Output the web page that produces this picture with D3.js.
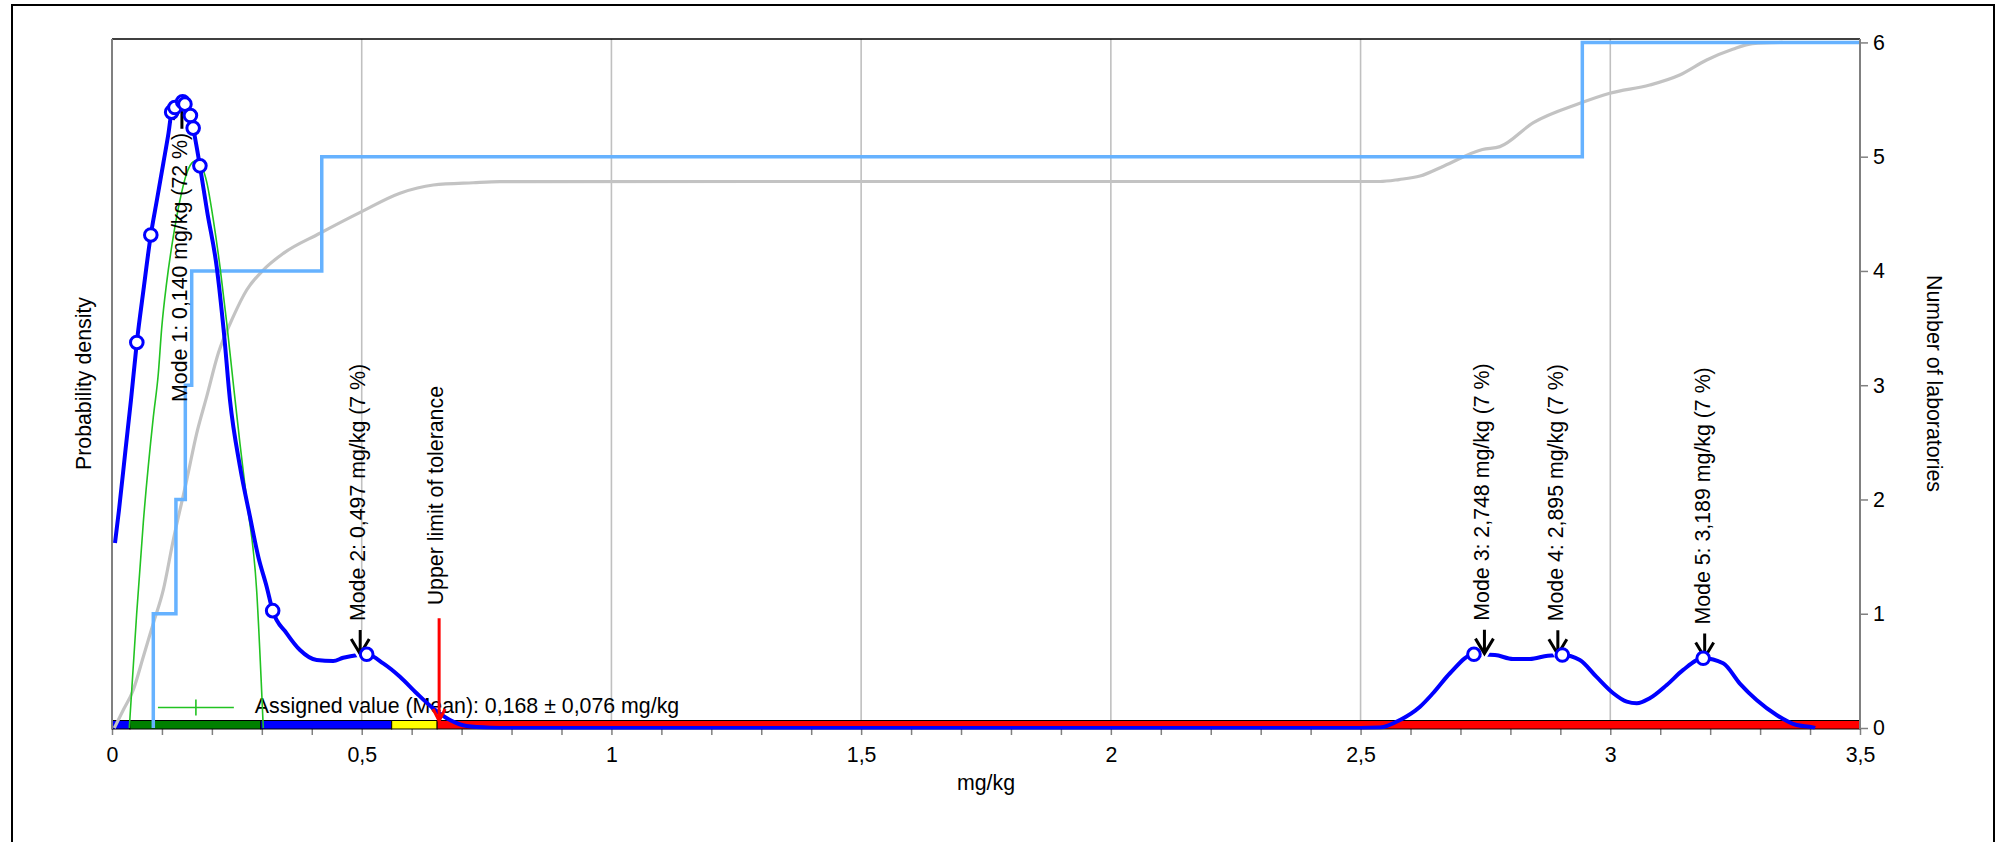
<!DOCTYPE html>
<html><head><meta charset="utf-8">
<script src="https://cdn.jsdelivr.net/npm/d3@7"></script>
<style>
body{margin:0;background:#fff}
svg{display:block}
text{font-family:"Liberation Sans",Arial,sans-serif;font-size:21.33px;fill:#000}
</style>
</head><body>
<svg id="c" width="2004" height="842"></svg>
<script>
// ---------- data ----------
const densityCurve = [
 [0.006,1.619],[0.014,1.908],[0.027,2.433],[0.038,2.871],[0.0497,3.374],[0.063,3.833],[0.0777,4.315],
 [0.0899,4.621],[0.1027,4.942],[0.1131,5.205],[0.1195,5.39],[0.126,5.43],[0.133,5.47],[0.1415,5.48],
 [0.146,5.46],[0.157,5.36],[0.1625,5.25],[0.176,4.92],[0.1905,4.52],[0.2096,4.037],[0.2242,3.454],
 [0.2362,2.871],[0.2563,2.287],[0.2763,1.849],[0.2929,1.499],[0.3097,1.237],[0.3217,1.027],[0.3497,0.829],
 [0.3764,0.683],[0.4098,0.595],[0.443,0.586],[0.463,0.615],[0.48,0.630],[0.51,0.645],[0.543,0.566],
 [0.5766,0.449],[0.61,0.304],[0.643,0.172],[0.6767,0.070],[0.71,0.0175],[0.757,0.003],[0.80,0],
 [2.50,0],[2.539,0.004],[2.579,0.070],[2.619,0.186],[2.645,0.304],[2.679,0.479],[2.727,0.645],
 [2.769,0.639],[2.805,0.604],[2.839,0.604],[2.875,0.633],[2.904,0.639],[2.939,0.595],[2.972,0.449],
 [3.006,0.304],[3.033,0.230],[3.053,0.216],[3.079,0.26],[3.113,0.376],[3.146,0.508],[3.186,0.610],
 [3.226,0.566],[3.259,0.391],[3.293,0.245],[3.333,0.114],[3.373,0.026],[3.406,0.006],[3.41,0]
];
const labResults = [
 [0.0497,3.374],[0.0777,4.315],[0.1195,5.39],[0.126,5.43],[0.1415,5.48],[0.146,5.46],[0.157,5.36],
 [0.1625,5.25],[0.176,4.92],[0.3217,1.027],[0.51,0.645],[2.727,0.645],[2.904,0.639],[3.186,0.610]
];
const normalCurve = [
 [0.0346,0],[0.0494,1.0],[0.0627,1.8],[0.0827,2.72],[0.0927,3.1],[0.0995,3.5],[0.1095,3.9],
 [0.1227,4.3],[0.1361,4.62],[0.1496,4.855],[0.1628,4.956],[0.1696,4.965],[0.1896,4.78],[0.2028,4.45],
 [0.2162,4.037],[0.2296,3.55],[0.2428,3.017],[0.2563,2.486],[0.2697,1.995],[0.2897,1.2],[0.3029,0]
];
const cumulativeCurve = [
 [0.0046,0],[0.0226,0.158],[0.0426,0.333],[0.0627,0.624],[0.0827,0.916],[0.1027,1.208],[0.1227,1.645],
 [0.1496,2.170],[0.1696,2.579],[0.1896,2.900],[0.2128,3.279],[0.2428,3.600],[0.2697,3.833],[0.3029,4.008],
 [0.343,4.154],[0.4164,4.330],[0.4999,4.519],[0.5766,4.680],[0.6432,4.752],[0.7233,4.772],[0.7768,4.781],
 [1.377,4.783],[2.539,4.783],[2.577,4.80],[2.619,4.831],[2.667,4.919],[2.744,5.063],[2.779,5.088],
 [2.846,5.298],[2.939,5.467],[2.999,5.555],[3.079,5.627],[3.139,5.715],[3.193,5.846],[3.245,5.94],
 [3.285,5.99],[3.345,6.0]
];
const labCountSteps = [[0.0827,1],[0.128,2],[0.1468,3],[0.1596,4],[0.42,5],[2.944,6]];
const bandSegments = [[0,0.036],[0.036,0.298],[0.298,0.56],[0.56,0.651],[0.651,3.5]];
const bandColors = ["#0000ff","#008000","#0000ff","#ffff00","#ff0000"];
const modeLabels = ["Mode 1: 0,140 mg/kg (72 %)","Mode 2: 0,497 mg/kg (7 %)","Mode 3: 2,748 mg/kg (7 %)","Mode 4: 2,895 mg/kg (7 %)","Mode 5: 3,189 mg/kg (7 %)"];
const modeValues = [0.140,0.497,2.748,2.895,3.189];
const modeDensities = [5.48,0.638,0.642,0.636,0.608];
const assignedValue = 0.168, assignedUncertainty = 0.076;
const assignedLabel = "Assigned value (Mean): 0,168 ± 0,076 mg/kg";
const upperTolerance = 0.655, toleranceMarkerHeight = 0.96;
const xTickValues = d3.range(0,36).map(i=>i/10);
const xTickLabels = {"0":"0","0.5":"0,5","1":"1","1.5":"1,5","2":"2","2.5":"2,5","3":"3","3.5":"3,5"};
const gridValues = [0.5,1,1.5,2,2.5,3];
const rightTicks = [0,1,2,3,4,5,6];

// ---------- layout ----------
const L=112, R=1860, T=39, B=728;
const svg = d3.select("#c");
const x = d3.scaleLinear([0,3.5],[L,R]);
const yD = d3.scaleLinear([0,6.03],[B,T]);
const yR = d3.scaleLinear([0,6.03],[B,T]);

// outer frame
svg.append("rect").attr("x",12).attr("y",5).attr("width",1982).attr("height",900)
  .attr("fill","none").attr("stroke","#000").attr("stroke-width",2);

svg.append("defs").append("clipPath").attr("id","plot")
  .append("rect").attr("x",L).attr("y",T-4).attr("width",R-L).attr("height",B-T+5.5);

// grid
svg.append("g").selectAll("line").data(gridValues).join("line")
  .attr("x1",d=>x(d)).attr("x2",d=>x(d)).attr("y1",T).attr("y2",B)
  .attr("stroke","#c0c0c0").attr("stroke-width",1.6);

// bottom axis
const xAxis = d3.axisBottom(x).tickValues(xTickValues).tickSize(6)
  .tickFormat(d=>{const k=String(+d.toFixed(1)); return xTickLabels[k]||"";});
const gx = svg.append("g").attr("transform",`translate(0,${B+1})`).call(xAxis);
gx.select(".domain").remove();
gx.selectAll(".tick line").attr("stroke","#808080").attr("stroke-width",1.5);
gx.selectAll(".tick text").attr("y",33).attr("dy",0).style("font-size","21.33px")
  .style("font-family",'"Liberation Sans",Arial,sans-serif').attr("fill","#000");

// band
const band = svg.append("g");
band.selectAll("rect").data(bandSegments).join("rect")
  .attr("x",d=>x(d[0])).attr("width",d=>x(d[1])-x(d[0]))
  .attr("y",B-7.5).attr("height",8.5)
  .attr("fill",(d,i)=>bandColors[i]).attr("stroke","#000").attr("stroke-width",1);

// legend (assigned value)
const ly = yD(0.18);
svg.append("line").attr("x1",x(assignedValue-assignedUncertainty)).attr("x2",x(assignedValue+assignedUncertainty))
  .attr("y1",ly).attr("y2",ly).attr("stroke","#22c322").attr("stroke-width",1.6);
svg.append("line").attr("x1",x(assignedValue)).attr("x2",x(assignedValue))
  .attr("y1",ly-8).attr("y2",ly+8).attr("stroke","#22c322").attr("stroke-width",1.6);
svg.append("text").attr("x",x(assignedValue+assignedUncertainty)+21).attr("y",ly+6).text(assignedLabel);

const plot = svg.append("g").attr("clip-path","url(#plot)");

// cumulative (grey)
plot.append("path").datum(cumulativeCurve)
  .attr("d",d3.line().x(d=>x(d[0])).y(d=>yR(d[1])).curve(d3.curveMonotoneX))
  .attr("fill","none").attr("stroke","#c3c3c3").attr("stroke-width",3.2);

// lab count step (light blue)
const stepPts = [[labCountSteps[0][0],0], ...labCountSteps, [3.5,6]];
plot.append("path").datum(stepPts)
  .attr("d",d3.line().x(d=>x(d[0])).y(d=>yR(d[1])).curve(d3.curveStepAfter))
  .attr("fill","none").attr("stroke","#66b2ff").attr("stroke-width",3.5);

// normal curve (green)
plot.append("path").datum(normalCurve)
  .attr("d",d3.line().x(d=>x(d[0])).y(d=>yD(d[1])).curve(d3.curveMonotoneX))
  .attr("fill","none").attr("stroke","#22c322").attr("stroke-width",1.6);

// density (blue)
plot.append("path").datum(densityCurve)
  .attr("d",d3.line().x(d=>x(d[0])).y(d=>yD(d[1])).curve(d3.curveMonotoneX))
  .attr("fill","none").attr("stroke","#0000ff").attr("stroke-width",4).attr("stroke-linejoin","round");

// axes lines
svg.append("line").attr("x1",L).attr("x2",R).attr("y1",T).attr("y2",T).attr("stroke","#000").attr("stroke-width",1.5);
svg.append("line").attr("x1",L).attr("x2",L).attr("y1",T).attr("y2",B+1).attr("stroke","#808080").attr("stroke-width",2);
const yAxis = d3.axisRight(yR).tickValues(rightTicks).tickSize(8).tickPadding(5).tickFormat(d3.format("d"));
const gy = svg.append("g").attr("transform",`translate(${R},0)`).call(yAxis);
gy.select(".domain").attr("stroke","#808080").attr("stroke-width",2).attr("d",`M0,${T}V${B+1}`);
gy.selectAll(".tick line").attr("stroke","#808080").attr("stroke-width",1.5);
gy.selectAll(".tick text").style("font-size","21.33px").style("font-family",'"Liberation Sans",Arial,sans-serif').attr("fill","#000");

// upper tolerance
const tx = x(upperTolerance), tTop = yD(toleranceMarkerHeight);
svg.append("path").attr("d",`M${tx},${tTop}V${B-7}M${tx-6},${B-19}L${tx},${B-7}L${tx+6},${B-19}`)
  .attr("fill","none").attr("stroke","#ff0000").attr("stroke-width",3);
svg.append("text").attr("transform",`translate(${tx+4},${tTop-13}) rotate(-90)`).text("Upper limit of tolerance");

// mode arrows
modeValues.forEach((m,i)=>{
  const mx = x(m), cy = yD(modeDensities[i]);
  const below = i===0;
  let tip, base, p;
  if(!below){ tip = cy-1; base = tip-24;
    p = `M${mx},${base}V${tip}M${mx-9},${tip-15}L${mx},${tip}L${mx+9},${tip-15}`;
  } else { tip = cy+3; base = tip+24;
    p = `M${mx},${base}V${tip}M${mx-9},${tip+15}L${mx},${tip}L${mx+9},${tip+15}`;
  }
  svg.append("path").attr("d",p).attr("fill","none").attr("stroke","#fff").attr("stroke-width",8);
  svg.append("path").attr("d",p).attr("fill","none").attr("stroke","#000").attr("stroke-width",3);
  const t = svg.append("text").text(modeLabels[i]);
  if(!below) t.attr("transform",`translate(${mx+5},${base-9}) rotate(-90)`);
  else t.attr("transform",`translate(${mx+5},${base+4}) rotate(-90)`).attr("text-anchor","end");
});

// lab result circles
svg.append("g").selectAll("circle").data(labResults).join("circle")
  .attr("cx",d=>x(d[0])).attr("cy",d=>yD(d[1])).attr("r",6.3)
  .attr("fill","#fff").attr("stroke","#0000ff").attr("stroke-width",3);

// axis titles
svg.append("text").attr("transform",`translate(84,${(T+B)/2}) rotate(-90)`).attr("text-anchor","middle")
  .attr("dominant-baseline","central").text("Probability density");
svg.append("text").attr("transform",`translate(1934,${(T+B)/2}) rotate(90)`).attr("text-anchor","middle")
  .attr("dominant-baseline","central").text("Number of laboratories");
svg.append("text").attr("x",(L+R)/2).attr("y",790).attr("text-anchor","middle").text("mg/kg");
</script>
</body></html>
